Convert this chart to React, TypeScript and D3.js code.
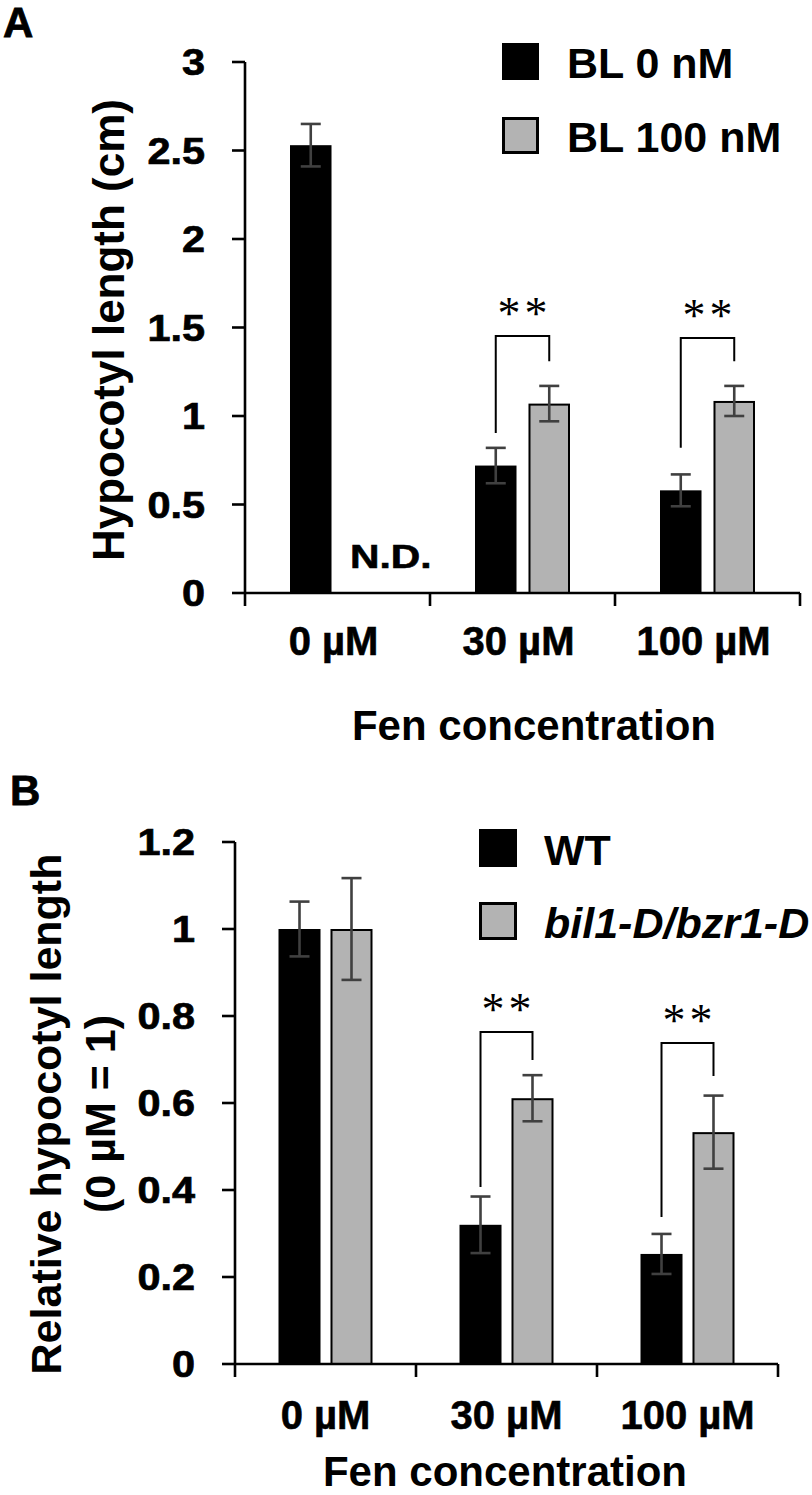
import React from "react";
import * as d3 from "d3";

// ---------- data ----------
const categories = ["0 µM", "30 µM", "100 µM"];

const seriesA = ["BL 0 nM", "BL 100 nM"];
const aBL0 = [2.53, 0.72, 0.58];
const aBL0Err = [0.12, 0.1, 0.09];
const aBL100: (number | null)[] = [null, 1.07, 1.085];
const aBL100Err: (number | null)[] = [null, 0.1, 0.085];
const aTicks = [0, 0.5, 1, 1.5, 2, 2.5, 3];
const aTickLabels = ["0", "0.5", "1", "1.5", "2", "2.5", "3"];
// significance brackets [category index, top, left bottom, right bottom]
const aBrackets = [
  [1, 1.452, 0.904, 1.31],
  [2, 1.44, 0.82, 1.31],
];

const seriesB = ["WT", "bil1-D/bzr1-D"];
const bWT = [1.0, 0.32, 0.253];
const bWTErr = [0.063, 0.065, 0.046];
const bBil: (number | null)[] = [1.0, 0.611, 0.533];
const bBilErr: (number | null)[] = [0.117, 0.053, 0.084];
const bTicks = [0, 0.2, 0.4, 0.6, 0.8, 1, 1.2];
const bTickLabels = ["0", "0.2", "0.4", "0.6", "0.8", "1", "1.2"];
const bBrackets = [
  [1, 0.763, 0.407, 0.699],
  [2, 0.738, 0.338, 0.662],
];

const FONT = "'Liberation Sans', Arial, Helvetica, sans-serif";
const BLACK = "#000000";
const GRAY = "#b3b3b3";
const ERR = "#404040";

type PanelProps = {
  letter: string;
  letterX: number;
  letterY: number;
  x0: number;
  x1: number;
  yTop: number;
  yBottom: number;
  yMax: number;
  ticks: number[];
  tickLabels: string[];
  tickLabelRight: number;
  s1: number[];
  e1: number[];
  s2: (number | null)[];
  e2: (number | null)[];
  innerPad: number;
  groupW: number;
  brackets: number[][];
  xLabelBaseline: number;
  xLabelShift: number;
  xTitleBaseline: number;
  xTitleCenter: number;
  yTitle: string[];
  yTitleX: number[];
  yTitleCenter: number;
  yTitleSize: number;
  legendNames: string[];
  legendX: number;
  legendY: number[];
  legendSize: number;
  legendTextX: number;
  legendItalic: boolean[];
  nd?: { x: number; y: number };
};

function Panel(p: PanelProps) {
  const y = d3.scaleLinear().domain([0, p.yMax]).range([p.yBottom, p.yTop]);
  const x = d3.scaleBand<string>().domain(categories).range([p.x0, p.x1]).padding(0);
  const inner = d3
    .scaleBand<number>()
    .domain([0, 1])
    .range([-p.groupW / 2, p.groupW / 2])
    .paddingInner(p.innerPad)
    .paddingOuter(0);
  const bw = inner.bandwidth();
  const center = (i: number) => (x(categories[i]) as number) + x.bandwidth() / 2;
  const barCx = (i: number, s: number) => center(i) + (inner(s) as number) + bw / 2;

  const series = [
    { v: p.s1, e: p.e1, fill: BLACK },
    { v: p.s2, e: p.e2, fill: GRAY },
  ];

  const boundaries = [p.x0, ...categories.map((c) => (x(c) as number) + x.bandwidth())];

  return (
    <g>
      <text
        x={p.letterX}
        y={p.letterY}
        fontFamily={FONT}
        fontWeight="bold"
        fontSize={42}
        stroke={BLACK}
        strokeWidth={0.8}
      >
        {p.letter}
      </text>

      {/* bars */}
      {series.map((s, si) =>
        s.v.map((v, i) =>
          v == null ? null : (
            <rect
              key={`b${si}-${i}`}
              x={center(i) + (inner(si) as number) + 1}
              y={y(v) + 1}
              width={bw - 2}
              height={y(0) - y(v) - 1}
              fill={s.fill}
              stroke={BLACK}
              strokeWidth={2}
            />
          )
        )
      )}

      {/* error bars */}
      {series.map((s, si) =>
        s.v.map((v, i) => {
          const e = s.e[i];
          if (v == null || e == null) return null;
          const cx = barCx(i, si);
          return (
            <g key={`e${si}-${i}`} stroke={ERR} strokeWidth={2.6}>
              <line x1={cx} x2={cx} y1={y(v - e)} y2={y(v + e)} />
              <line x1={cx - 10} x2={cx + 10} y1={y(v + e)} y2={y(v + e)} />
              <line x1={cx - 10} x2={cx + 10} y1={y(v - e)} y2={y(v - e)} />
            </g>
          );
        })
      )}

      {/* axes */}
      <g stroke={BLACK} strokeWidth={2.6} fill="none">
        <line x1={p.x0} x2={p.x0} y1={p.yTop} y2={p.yBottom} />
        <line x1={p.x0} x2={p.x1} y1={p.yBottom} y2={p.yBottom} />
        {p.ticks.map((t) => (
          <line key={`yt${t}`} x1={p.x0 - 13} x2={p.x0} y1={y(t)} y2={y(t)} />
        ))}
        {boundaries.map((b, i) => (
          <line key={`xt${i}`} x1={b} x2={b} y1={p.yBottom} y2={p.yBottom + 13} />
        ))}
      </g>
      {p.ticks.map((t, i) => (
        <text
          key={`yl${t}`}
          transform={`translate(${p.tickLabelRight},${y(t) + 13}) scale(1.12,1)`}
          textAnchor="end"
          fontFamily={FONT}
          fontWeight="bold"
          fontSize={37}
          stroke={BLACK}
          strokeWidth={0.7}
        >
          {p.tickLabels[i]}
        </text>
      ))}
      {categories.map((c, i) => (
        <text
          key={`xl${c}`}
          x={center(i) + p.xLabelShift}
          y={p.xLabelBaseline}
          textAnchor="middle"
          fontFamily={FONT}
          fontWeight="bold"
          fontSize={40}
          stroke={BLACK}
          strokeWidth={0.6}
        >
          {c}
        </text>
      ))}
      <text
        x={p.xTitleCenter}
        y={p.xTitleBaseline}
        textAnchor="middle"
        fontFamily={FONT}
        fontWeight="bold"
        fontSize={42}
      >
        Fen concentration
      </text>
      {p.yTitle.map((t, i) => (
        <text
          key={`yt-${i}`}
          transform={`translate(${p.yTitleX[i]},${p.yTitleCenter}) rotate(-90)`}
          textAnchor="middle"
          fontFamily={FONT}
          fontWeight="bold"
          fontSize={p.yTitleSize}
        >
          {t}
        </text>
      ))}

      {/* significance */}
      {p.brackets.map((b, k) => {
        const i = b[0];
        const lx = barCx(i, 0);
        const rx = barCx(i, 1);
        const top = y(b[1]);
        return (
          <g key={`br${k}`}>
            <path
              d={`M${lx},${y(b[2])}V${top}H${rx}V${y(b[3])}`}
              fill="none"
              stroke={BLACK}
              strokeWidth={2}
            />
            <text
              x={(lx + rx) / 2 + 2}
              y={top - 7}
              textAnchor="middle"
              fontFamily="'Liberation Serif', 'Times New Roman', serif"
              fontSize={46}
              letterSpacing={4}
            >
              **
            </text>
          </g>
        );
      })}

      {p.nd && (
        <text
          transform={`translate(${p.nd.x},${p.nd.y}) scale(1.2,1)`}
          fontFamily={FONT}
          fontWeight="bold"
          fontSize={34}
          stroke={BLACK}
          strokeWidth={0.6}
        >
          N.D.
        </text>
      )}

      {/* legend */}
      {p.legendNames.map((n, i) => (
        <g key={`lg${n}`}>
          <rect
            x={p.legendX + 1.5}
            y={p.legendY[i] + 1.5}
            width={p.legendSize - 3}
            height={p.legendSize - 3}
            fill={i === 0 ? BLACK : GRAY}
            stroke={BLACK}
            strokeWidth={3}
          />
          <text
            x={p.legendTextX}
            y={p.legendY[i] + p.legendSize - 2}
            fontFamily={FONT}
            fontWeight="bold"
            fontStyle={p.legendItalic[i] ? "italic" : "normal"}
            fontSize={43}
          >
            {n}
          </text>
        </g>
      ))}
    </g>
  );
}

export default function App() {
  return (
    <svg
      width={812}
      height={1495}
      viewBox="0 0 812 1495"
      style={{ position: "absolute", left: 0, top: 0, background: "#fff" }}
    >
      <rect width={812} height={1495} fill="#fff" />
      <Panel
        letter="A"
        letterX={3}
        letterY={37}
        x0={245}
        x1={800}
        yTop={62}
        yBottom={593}
        yMax={3}
        ticks={aTicks}
        tickLabels={aTickLabels}
        tickLabelRight={205}
        s1={aBL0}
        e1={aBL0Err}
        s2={aBL100}
        e2={aBL100Err}
        innerPad={0.224}
        groupW={95}
        brackets={aBrackets}
        xLabelBaseline={655}
        xLabelShift={-4}
        xTitleBaseline={740}
        xTitleCenter={534}
        yTitle={["Hypocotyl length (cm)"]}
        yTitleX={[124]}
        yTitleCenter={330}
        yTitleSize={44}
        legendNames={seriesA}
        legendX={502}
        legendY={[43, 117]}
        legendSize={37}
        legendTextX={567}
        legendItalic={[false, false]}
        nd={{ x: 350, y: 568 }}
      />
      <Panel
        letter="B"
        letterX={10}
        letterY={805}
        x0={235}
        x1={778}
        yTop={842}
        yBottom={1364}
        yMax={1.2}
        ticks={bTicks}
        tickLabels={bTickLabels}
        tickLabelRight={195}
        s1={bWT}
        e1={bWTErr}
        s2={bBil}
        e2={bBilErr}
        innerPad={0.192}
        groupW={94}
        brackets={bBrackets}
        xLabelBaseline={1429}
        xLabelShift={0}
        xTitleBaseline={1486}
        xTitleCenter={505}
        yTitle={["Relative hypocotyl length", "(0 µM = 1)"]}
        yTitleX={[61, 115]}
        yTitleCenter={1114}
        yTitleSize={43}
        legendNames={seriesB}
        legendX={479}
        legendY={[829, 902]}
        legendSize={38}
        legendTextX={544}
        legendItalic={[false, true]}
      />
    </svg>
  );
}
